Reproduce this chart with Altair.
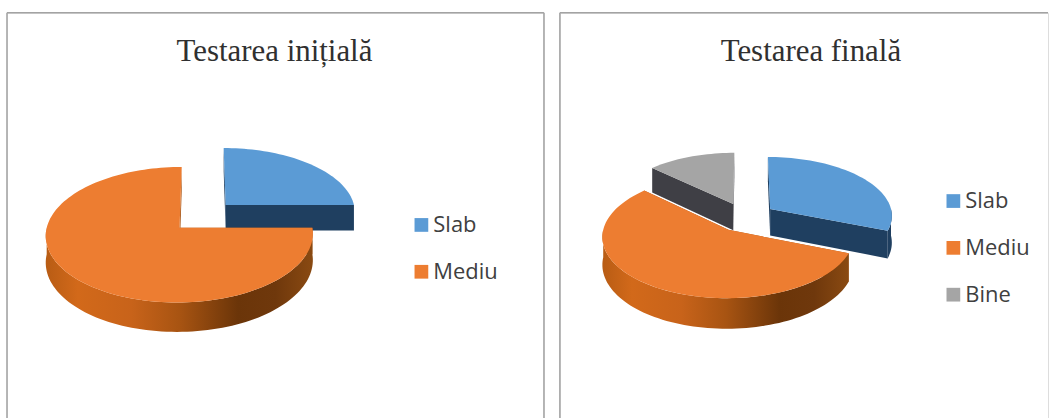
import math
import altair as alt

# Category shares of the two tests, in percent
INITIAL_LABELS = ["Slab", "Mediu"]
INITIAL_VALUES = [25, 75]
FINAL_LABELS = ["Slab", "Mediu", "Bine"]
FINAL_VALUES = [31, 56, 13]

TOP_COLORS = {"Slab": "#5b9bd5", "Mediu": "#ed7d31", "Bine": "#a5a5a5"}
WALL_COLORS = {"Slab": "#1f3f60", "Mediu": "#a85412", "Bine": "#3f3f45"}

PERSPECTIVE = 0.1

# Both panels share one planar projection; each pie carries its own centre
PROJECTION = dict(type="identity", scale=1, translate=[0, 0])


def slice_shapes(labels, values, center, rx, ry, explode, depth):
    """Top face, radial walls and outer wall of every slice, in slice order."""

    def project(u, v, lowered=False):
        s = 1.0 / (1.0 + PERSPECTIVE * v)
        return [center[0] + rx * u * s,
                center[1] - ry * v * s + (depth * s if lowered else 0.0)]

    def feature(ring, label):
        closed = ring + [ring[0]]
        return {
            "type": "Feature",
            "properties": {"category": label},
            "geometry": {"type": "Polygon", "coordinates": [closed]},
        }

    total = sum(values)
    start = 0.0
    shapes = []
    for label, value in zip(labels, values):
        end = start + 360.0 * value / total
        mid = math.radians((start + end) / 2)
        ou, ov = explode * math.sin(mid), explode * math.cos(mid)

        def rim(deg, lowered=False):
            a = math.radians(deg)
            return project(ou + math.sin(a), ov + math.cos(a), lowered)

        steps = max(2, int((end - start) / 2))
        arc = [start + (end - start) * i / steps for i in range(steps + 1)]
        top = [project(ou, ov)] + [rim(d) for d in arc]

        radial = []
        for edge in (start, end):
            radial.append(feature(
                [project(ou, ov), rim(edge), rim(edge, True), project(ou, ov, True)], label))

        outer = None
        lo, hi = max(start, 90.0), min(end, 270.0)
        if hi > lo:
            n = max(2, int((hi - lo) / 2))
            front = [lo + (hi - lo) * i / n for i in range(n + 1)]
            outer = feature([rim(d) for d in front] + [rim(d, True) for d in reversed(front)], label)

        shapes.append({"label": label, "top": feature(top, label), "radial": radial, "outer": outer})
        start = end
    return shapes


SIDE_GRADIENT = alt.Gradient(
    gradient="linear", x1=0, x2=1, y1=0, y2=0,
    stops=[
        alt.GradientStop(color="#b85c14", offset=0),
        alt.GradientStop(color="#d2691a", offset=0.12),
        alt.GradientStop(color="#c8631a", offset=0.32),
        alt.GradientStop(color="#a85412", offset=0.5),
        alt.GradientStop(color="#6b3509", offset=0.72),
        alt.GradientStop(color="#6f380c", offset=0.86),
        alt.GradientStop(color="#8a4a12", offset=1),
    ],
)


def panel(title, labels, values, order, pie, width, height, legend_xy,
          legend_pad, title_dx, closed_right):
    color = alt.Color(
        "properties.category:N",
        scale=alt.Scale(domain=labels, range=[TOP_COLORS[c] for c in labels]),
        legend=alt.Legend(
            orient="none", legendX=legend_xy[0], legendY=legend_xy[1], title=None,
            symbolType="square", symbolSize=190, symbolStrokeWidth=0,
            labelFont="Open Sans", labelFontSize=22, labelColor="#404040",
            labelOffset=1, rowPadding=legend_pad,
        ),
    )
    shapes = {s["label"]: s for s in slice_shapes(labels, values, *pie)}
    layers = []

    # Panel frame: open at the bottom, where it runs past the page
    frame = alt.Chart(alt.Data(values=[{"f": 1}]))
    style = {"color": "#a3a3a3", "strokeWidth": 1.5}
    layers.append(frame.mark_rule(**style).encode(
        x=alt.value(0), x2=alt.value(width), y=alt.value(0)))
    layers.append(frame.mark_rule(**style).encode(
        x=alt.value(0), y=alt.value(0), y2=alt.value(height)))
    if closed_right:
        layers.append(frame.mark_rule(**style).encode(
            x=alt.value(width), y=alt.value(0), y2=alt.value(height)))

    # Slices painted back to front
    for label in order:
        s = shapes[label]
        wall = alt.Chart(alt.Data(values=s["radial"]))
        layers.append(wall.mark_geoshape(fill=WALL_COLORS[label], strokeWidth=0).project(**PROJECTION))
        if s["outer"] is not None:
            fill = SIDE_GRADIENT if label == "Mediu" else WALL_COLORS[label]
            side = alt.Chart(alt.Data(values=[s["outer"]]))
            layers.append(side.mark_geoshape(fill=fill, strokeWidth=0).project(**PROJECTION))
        face = alt.Chart(alt.Data(values=[s["top"]]))
        layers.append(face.mark_geoshape(strokeWidth=0).encode(color=color).project(**PROJECTION))

    return alt.layer(*layers).properties(
        width=width, height=height,
        title=alt.TitleParams(
            text=title, font="Liberation Serif", fontSize=31, fontWeight="normal",
            color="#303030", anchor="middle", offset=-56, dx=title_dx,
        ),
    )


left = panel("Testarea inițială", INITIAL_LABELS, INITIAL_VALUES, ["Slab", "Mediu"],
             ((196.8, 204.2), 131.0, 65.0, 0.25, 26.0), 539, 408, (405, 202), 25, -1, True)
right = panel("Testarea finală", FINAL_LABELS, FINAL_VALUES, ["Bine", "Slab", "Mediu"],
              ((186.0, 205.2), 123.0, 59.0, 0.25, 27.0), 490, 408, (384, 178), 25, 7, False)

chart = alt.hconcat(left, right, spacing=12, padding={"left": 5, "top": 10, "right": 0, "bottom": 0}).resolve_scale(
    color="independent"
).resolve_legend(color="independent").configure_view(stroke=None).configure(background="white")

chart.save("out.html", embed_options={"renderer": "svg", "actions": False})
